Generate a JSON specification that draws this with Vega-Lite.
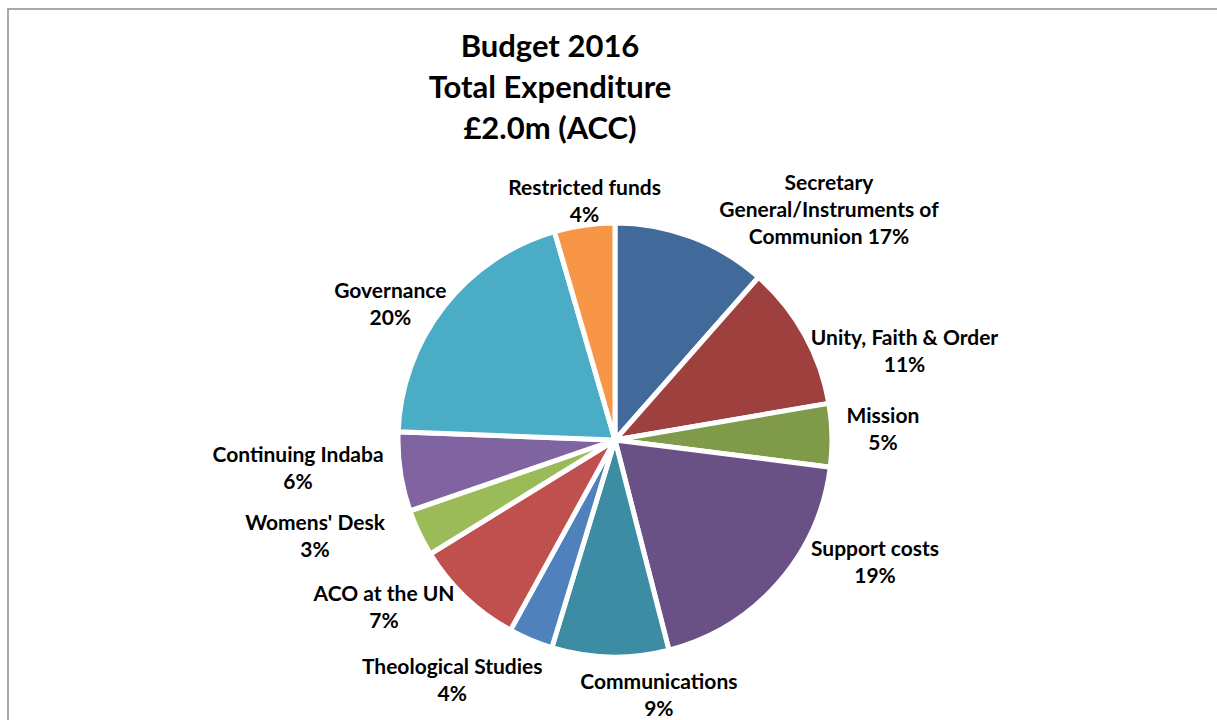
{
  "$schema": "https://vega.github.io/schema/vega-lite/v6.json",
  "width": 1214,
  "height": 862,
  "autosize": "none",
  "padding": {"left": 8, "top": 9, "right": -5, "bottom": -151},
  "background": "white",
  "view": {"stroke": "#8c8c8c", "strokeWidth": 1.5, "style": "frame"},
  "title": {
    "text": ["Budget 2016", "Total Expenditure", "£2.0m (ACC)"],
    "font": "Lato",
    "fontSize": 31,
    "fontWeight": "bold",
    "color": "#000000",
    "lineHeight": 41,
    "anchor": "middle",
    "baseline": "alphabetic",
    "offset": -161,
    "dx": -65
  },
  "config": {
    "view": {"stroke": "#8c8c8c", "strokeWidth": 1.5},
    "style": {"cell": {"stroke": "#8c8c8c", "strokeWidth": 1.5}, "frame": {"stroke": "#8c8c8c", "strokeWidth": 1.5}},
    "text": {"font": "Lato", "fontSize": 21, "fontWeight": "bold", "lineHeight": 27, "lineBreak": "\n", "align": "center", "baseline": "middle", "color": "#000000"}
  },
  "data": {
    "values": [
      {"order": 1, "category": "Secretary General/Instruments of Communion", "value": 11.5, "label": "Secretary\nGeneral/Instruments of\nCommunion 17%"},
      {"order": 2, "category": "Unity, Faith & Order", "value": 10.8, "label": "Unity, Faith & Order\n11%"},
      {"order": 3, "category": "Mission", "value": 4.7, "label": "Mission\n5%"},
      {"order": 4, "category": "Support costs", "value": 19.0, "label": "Support costs\n19%"},
      {"order": 5, "category": "Communications", "value": 8.7, "label": "Communications\n9%"},
      {"order": 6, "category": "Theological Studies", "value": 3.3, "label": "Theological Studies\n4%"},
      {"order": 7, "category": "ACO at the UN", "value": 8.2, "label": "ACO at the UN\n7%"},
      {"order": 8, "category": "Womens' Desk", "value": 3.5, "label": "Womens' Desk\n3%"},
      {"order": 9, "category": "Continuing Indaba", "value": 5.9, "label": "Continuing Indaba\n6%"},
      {"order": 10, "category": "Governance", "value": 19.9, "label": "Governance\n20%"},
      {"order": 11, "category": "Restricted funds", "value": 4.5, "label": "Restricted funds\n4%"}
    ]
  },
  "encoding": {
    "theta": {"field": "value", "type": "quantitative", "stack": true},
    "order": {"field": "order", "type": "quantitative", "sort": "ascending"}
  },
  "layer": [
    {
      "mark": {"type": "arc", "radius": 217, "stroke": "white", "strokeWidth": 5},
      "encoding": {
        "color": {
          "field": "category",
          "type": "nominal",
          "legend": null,
          "scale": {
            "domain": ["Secretary General/Instruments of Communion", "Unity, Faith & Order", "Mission", "Support costs", "Communications", "Theological Studies", "ACO at the UN", "Womens' Desk", "Continuing Indaba", "Governance", "Restricted funds"],
            "range": ["#41699A", "#9E413E", "#7F9A48", "#695185", "#3C8DA3", "#4F81BD", "#C0504D", "#9BBB59", "#8064A2", "#4BACC6", "#F79646"]
          }
        }
      }
    },
    {"mark": {"type": "text", "radius": 280, "dx": 115, "dy": 6}, "encoding": {"text": {"condition": {"test": "datum.order === 1", "field": "label"}, "value": ""}}},
    {"mark": {"type": "text", "radius": 280, "dx": 45, "dy": 35}, "encoding": {"text": {"condition": {"test": "datum.order === 2", "field": "label"}, "value": ""}}},
    {"mark": {"type": "text", "radius": 280, "dx": -12, "dy": -16.5}, "encoding": {"text": {"condition": {"test": "datum.order === 3", "field": "label"}, "value": ""}}},
    {"mark": {"type": "text", "radius": 280, "dx": 50, "dy": -75.5}, "encoding": {"text": {"condition": {"test": "datum.order === 4", "field": "label"}, "value": ""}}},
    {"mark": {"type": "text", "radius": 280, "dx": 50, "dy": -36.5}, "encoding": {"text": {"condition": {"test": "datum.order === 5", "field": "label"}, "value": ""}}},
    {"mark": {"type": "text", "radius": 280, "dx": -54, "dy": -30.5}, "encoding": {"text": {"condition": {"test": "datum.order === 6", "field": "label"}, "value": ""}}},
    {"mark": {"type": "text", "radius": 280, "dx": -38, "dy": -47.5}, "encoding": {"text": {"condition": {"test": "datum.order === 7", "field": "label"}, "value": ""}}},
    {"mark": {"type": "text", "radius": 280, "dx": -47, "dy": -36.5}, "encoding": {"text": {"condition": {"test": "datum.order === 8", "field": "label"}, "value": ""}}},
    {"mark": {"type": "text", "radius": 280, "dx": -40, "dy": -25.5}, "encoding": {"text": {"condition": {"test": "datum.order === 9", "field": "label"}, "value": ""}}},
    {"mark": {"type": "text", "radius": 280, "dx": -4, "dy": 24.5}, "encoding": {"text": {"condition": {"test": "datum.order === 10", "field": "label"}, "value": ""}}},
    {"mark": {"type": "text", "radius": 280, "dx": 9, "dy": 26}, "encoding": {"text": {"condition": {"test": "datum.order === 11", "field": "label"}, "value": ""}}}
  ]
}
